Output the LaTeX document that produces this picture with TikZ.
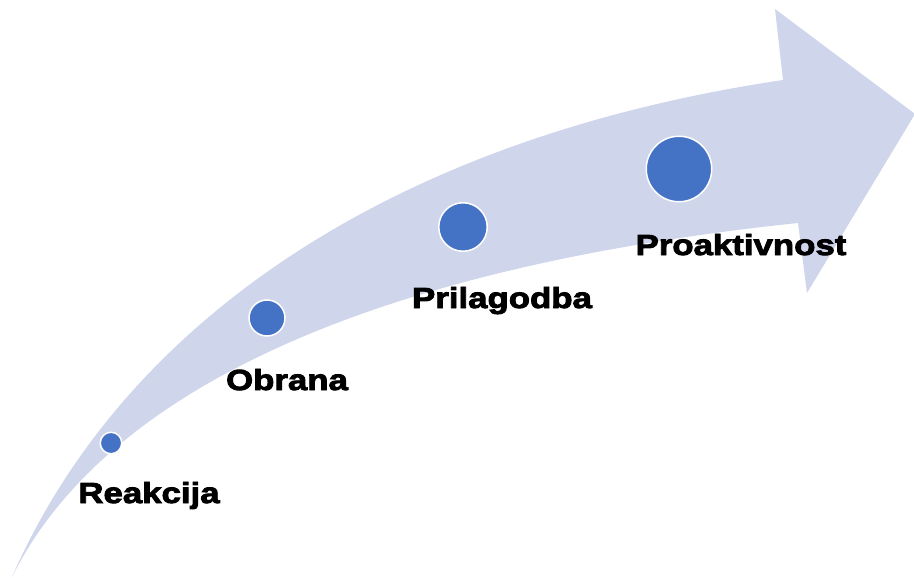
\documentclass[tikz,border=0pt]{standalone}
\usepackage{fontspec}
\newfontfamily\lblfont{Liberation Sans}[BoldFeatures={FakeStretch=1.2,FakeBold=3}]
\definecolor{arrowfill}{HTML}{CFD5EA}
\definecolor{dotblue}{HTML}{4472C4}
\tikzset{
  dot/.style={circle, fill=dotblue, draw=white, line width=1.5pt, inner sep=0pt},
  lbl/.style={anchor=base, inner sep=0pt, font=\lblfont\bfseries\fontsize{29}{32}\selectfont}
}
\begin{document}
\begin{tikzpicture}[x=1pt,y=-1pt]
\useasboundingbox (0,0) rectangle (914,578);
\fill[arrowfill] (12,577) .. controls (120,330) and (380,140) .. (783,80)
  -- (775,9) -- (915,114) -- (807,293) -- (798,223)
  .. controls (350,270) and (100,400) .. (12,577) -- cycle;
\node[dot, minimum size=21.5pt] (c1) at (111,443) {};
\node[dot, minimum size=36pt] (c2) at (267,318) {};
\node[dot, minimum size=48.5pt] (c3) at (463,227) {};
\node[dot, minimum size=65.5pt] (c4) at (679,169) {};
\node[lbl] (t1) at (149,503) {Reakcija};
\node[lbl] (t2) at (287,390) {Obrana};
\node[lbl] (t3) at (502,308) {Prilagodba};
\node[lbl] (t4) at (741,255) {Proaktivnost};
\end{tikzpicture}
\end{document}
